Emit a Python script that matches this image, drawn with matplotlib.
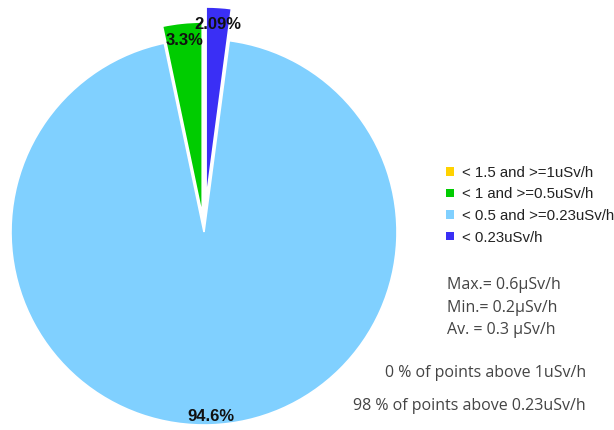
import numpy as np
import matplotlib.pyplot as plt
from matplotlib.patches import Patch

# slices, clockwise from 12 o'clock
categories = ["< 0.23uSv/h", "< 0.5 and >=0.23uSv/h", "< 1 and >=0.5uSv/h", "< 1.5 and >=1uSv/h"]
shares = [2.09, 94.6, 3.3, 0.0]
colors = ["#3a2ff5", "#80d0ff", "#00cc00", "#ffd200"]
explode = [0.166, 0.0, 0.088, 0.0]

stats_lines = ["Max.= 0.6µSv/h", "Min.= 0.2µSv/h", "Av. = 0.3 µSv/h"]
above_lines = ["0 % of points above 1uSv/h", "98 % of points above 0.23uSv/h"]

W, H = 614, 430
R = 193.0          # pie radius in pixels
cx, cy = 204, 232  # pie centre in pixels (from top-left)

fig = plt.figure(figsize=(W / 100, H / 100), dpi=100)
ax = fig.add_axes([0, 0, 1, 1])


def fmt(p):
    return "" if p < 0.05 else "{:.3g}%".format(p)


wedges, texts, autotexts = ax.pie(
    shares, colors=colors, explode=explode, startangle=90, counterclock=False,
    autopct=fmt, pctdistance=0.91,
    wedgeprops=dict(edgecolor="white", linewidth=1.2),
    textprops=dict(fontsize=12, fontweight="bold", color="#111111", family="Liberation Sans"))

# big slice label sits closer to the rim
w, t = wedges[1], autotexts[1]
th = np.deg2rad((w.theta1 + w.theta2) / 2)
t.set_position((w.center[0] + 0.955 * np.cos(th), w.center[1] + 0.955 * np.sin(th)))

ax.set_xlim(-cx / R, (W - cx) / R)
ax.set_ylim(-(H - cy) / R, cy / R)
ax.axis("off")

# legend, top entry first
handles = [Patch(facecolor=c, edgecolor="none") for c in colors[::-1]]
fig.legend(handles, categories[::-1], loc="upper left",
           bbox_to_anchor=(446 / W, 1 - 166 / H), frameon=False,
           handlelength=0.5, handleheight=0.5, handletextpad=0.55,
           labelspacing=0.5, borderpad=0, borderaxespad=0,
           prop=dict(family="Liberation Sans", size=10.8))
for txt in fig.legends[0].get_texts():
    txt.set_color("#222222")

for i, line in enumerate(stats_lines):
    fig.text(447 / W, 1 - (285 + 22.5 * i) / H, line, va="center", ha="left",
             family="Open Sans", fontsize=11.5, color="#444444")

for y, line in zip([373, 406], above_lines):
    fig.text(586 / W, 1 - y / H, line, va="center", ha="right",
             family="Open Sans", fontsize=11.5, color="#444444")

fig.savefig("out.png", dpi=100)
